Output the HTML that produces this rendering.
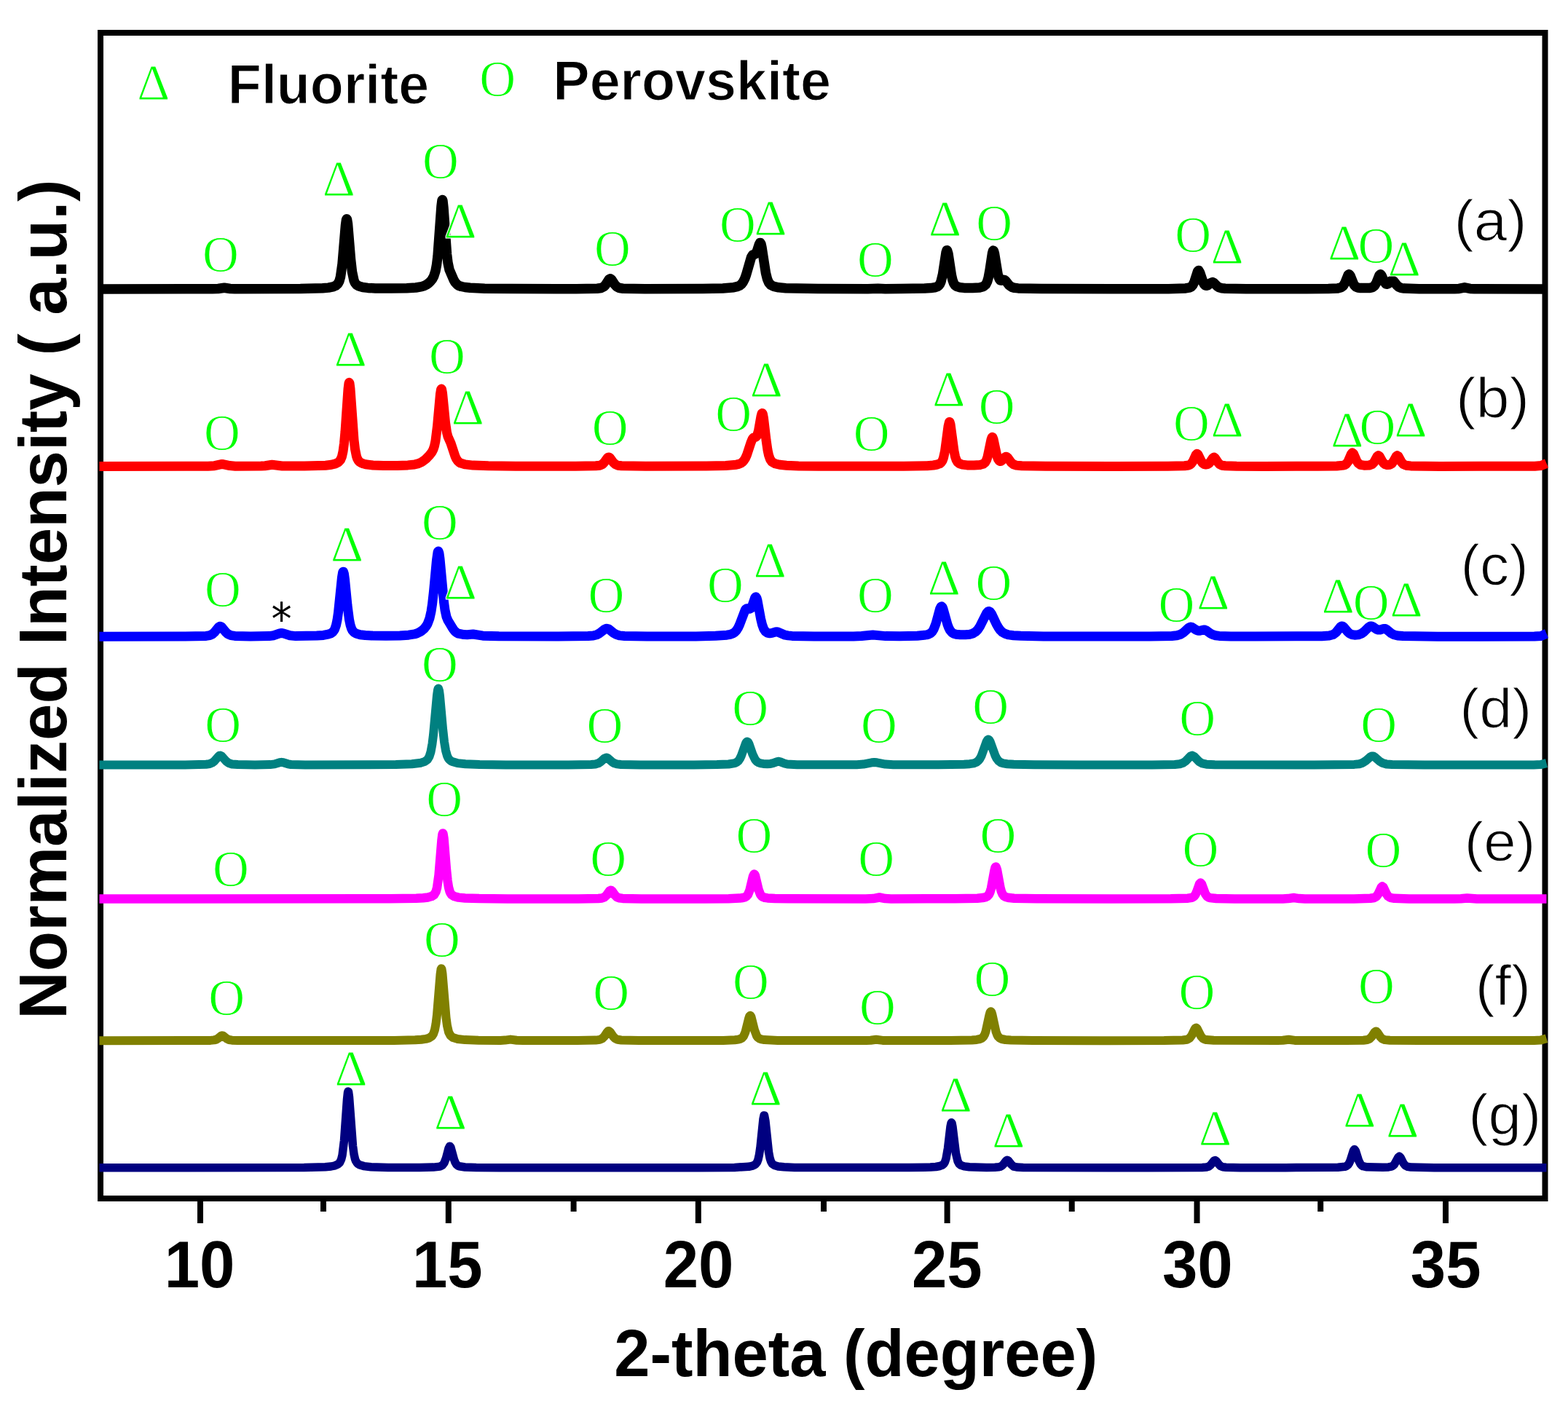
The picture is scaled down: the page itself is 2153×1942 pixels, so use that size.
<!DOCTYPE html><html><head><meta charset="utf-8"><title>XRD patterns</title><style>html,body{margin:0;padding:0;background:#fff;}svg{display:block;}text{font-kerning:none;}.b{font-family:"Liberation Sans",Arial,sans-serif;font-weight:bold;}.r{font-family:"Liberation Sans",Arial,sans-serif;}.s{font-family:"Liberation Serif","Times New Roman",serif;fill:#00ff00;stroke:#fff;stroke-width:1.1px;}</style></head><body>
<svg width="2153" height="1942" viewBox="0 0 2153 1942">
<rect width="2153" height="1942" fill="#ffffff"/>
<rect x="138" y="45" width="1983.5" height="1601" fill="none" stroke="#000" stroke-width="8"/>
<path d="M275.0,1646V1680M615.8,1646V1680M958.8,1646V1680M1300.6,1646V1680M1643.5,1646V1680M1985.0,1646V1680M444.0,1646V1664M787.6,1646V1664M1131.0,1646V1664M1471.7,1646V1664M1813.2,1646V1664" stroke="#000" stroke-width="8" fill="none"/>
<text class="b" font-size="87.0" transform="translate(225.66,1767.50) scale(1.0000,1.0509)">10</text>
<text class="b" font-size="87.0" transform="translate(565.89,1767.50) scale(1.0000,1.0509)">15</text>
<text class="b" font-size="87.0" transform="translate(910.69,1767.50) scale(1.0000,1.0509)">20</text>
<text class="b" font-size="87.0" transform="translate(1251.92,1767.50) scale(1.0000,1.0509)">25</text>
<text class="b" font-size="87.0" transform="translate(1595.90,1767.50) scale(1.0000,1.0509)">30</text>
<text class="b" font-size="87.0" transform="translate(1936.83,1767.50) scale(1.0000,1.0509)">35</text>
<text class="b" font-size="88.51" transform="translate(843.33,1889.70) scale(1,1.0337)">2-theta (degree)</text>
<text class="b" font-size="90.64" transform="translate(90.5,1393.6) rotate(-90) translate(-6.06,0) scale(1,1.0150)">Normalized Intensity ( a.u.)</text>
<text class="b" font-size="75.36" transform="translate(312.86,142.20) scale(1,1.0151)" style="stroke:#fff;stroke-width:1.20px">Fluorite</text>
<text class="b" font-size="75.44" transform="translate(759.35,136.90) scale(1,1.0008)" style="stroke:#fff;stroke-width:1.20px">Perovskite</text>
<polyline points="136.5,396.9 291.5,396.8 299.5,396.5 308.0,395.3 316.0,396.5 322.5,396.7 412.5,396.6 443.0,395.8 451.0,395.1 457.0,393.9 461.0,392.3 464.0,389.7 466.0,385.8 467.5,380.3 470.0,362.8 474.5,309.1 475.5,302.0 476.0,300.8 476.5,301.3 477.5,307.3 481.5,355.8 483.5,373.4 486.0,385.2 487.5,388.6 489.5,391.1 493.0,393.1 498.0,394.5 505.0,395.4 515.5,395.9 537.0,396.1 558.5,395.7 571.0,395.0 579.0,393.6 582.5,392.5 586.0,390.7 589.0,388.5 591.5,386.0 593.5,383.4 595.5,379.8 598.0,372.1 599.5,364.1 601.0,351.9 606.0,283.1 607.0,275.2 607.5,274.5 608.0,276.1 609.0,285.4 613.5,348.7 615.0,361.0 617.0,370.3 623.0,384.3 625.0,387.8 627.5,390.6 630.0,392.3 633.5,393.5 638.5,394.5 645.5,395.3 665.5,396.2 702.5,396.6 791.0,396.7 820.0,396.2 825.5,395.5 829.0,393.8 831.5,391.2 836.0,384.1 837.0,383.1 838.0,382.8 839.5,383.7 844.0,390.7 847.0,393.9 850.5,395.5 855.5,396.2 885.5,396.7 965.0,396.5 992.5,395.9 1007.5,394.7 1012.0,393.7 1015.5,392.3 1018.0,390.4 1020.5,387.1 1022.5,383.1 1024.5,377.6 1031.5,353.4 1033.5,350.2 1036.5,349.1 1038.0,347.8 1039.5,344.6 1042.5,335.3 1043.5,333.6 1044.0,333.6 1045.0,335.4 1046.0,339.7 1051.5,375.2 1053.5,383.2 1055.5,388.0 1058.5,391.5 1062.5,393.4 1069.0,394.8 1079.0,395.7 1123.0,396.6 1191.5,396.7 1205.5,396.2 1215.5,396.7 1237.0,396.6 1269.5,396.1 1278.0,395.6 1283.5,394.8 1287.0,393.6 1289.0,392.2 1290.5,390.2 1292.0,386.9 1294.5,376.5 1299.0,346.9 1300.0,343.9 1300.5,343.8 1302.0,348.8 1306.5,378.4 1308.0,384.8 1309.5,388.9 1311.5,391.9 1314.0,393.6 1318.0,394.7 1324.0,395.4 1335.5,395.6 1345.0,394.9 1350.5,393.4 1353.5,390.9 1355.5,387.0 1357.0,381.9 1359.0,371.2 1362.5,347.9 1363.5,344.5 1364.0,344.1 1364.5,344.7 1365.5,348.3 1370.0,376.1 1371.0,380.1 1372.5,383.8 1373.5,384.9 1374.5,385.3 1378.0,384.3 1379.5,384.6 1381.0,385.9 1385.5,391.6 1389.0,394.2 1392.5,395.3 1398.0,395.9 1430.0,396.6 1528.5,396.8 1604.5,396.7 1628.0,395.9 1634.0,394.8 1636.0,393.6 1637.5,391.9 1640.0,386.9 1644.5,372.9 1645.5,371.6 1646.0,371.6 1647.5,374.1 1652.0,387.7 1653.5,390.4 1655.0,391.9 1656.5,392.3 1658.0,392.0 1663.0,388.3 1665.0,387.6 1666.5,388.3 1671.0,392.8 1674.0,394.8 1677.5,395.8 1682.5,396.3 1711.0,396.7 1794.0,396.8 1824.0,396.5 1837.0,395.9 1841.5,394.8 1844.5,392.4 1847.0,388.0 1851.0,377.9 1852.0,376.8 1852.5,376.7 1854.0,378.6 1858.5,389.8 1860.0,392.2 1862.0,394.1 1864.5,395.1 1868.0,395.6 1880.0,395.6 1884.5,394.6 1887.5,392.3 1890.0,388.1 1894.0,378.1 1895.5,376.7 1897.0,378.3 1900.5,386.5 1903.0,389.9 1904.0,390.3 1905.5,390.0 1910.0,385.8 1912.0,385.1 1913.5,386.0 1918.0,391.7 1920.5,394.0 1923.5,395.3 1928.0,396.1 1948.5,396.7 1997.0,396.7 2003.5,396.4 2011.0,394.8 2018.5,396.4 2024.5,396.7 2123.5,396.9" fill="none" stroke="#000000" stroke-width="13.5" stroke-linejoin="round" stroke-linecap="butt"/>
<polyline points="136.5,640.5 285.5,640.3 294.5,639.7 305.0,637.4 315.5,639.6 323.0,640.2 358.5,640.1 364.0,639.7 373.5,638.3 387.5,640.0 418.0,640.0 447.0,639.2 455.0,638.3 460.5,636.9 464.5,635.0 467.5,631.7 469.5,626.9 471.0,620.1 472.5,609.1 474.0,592.7 478.0,534.4 479.0,526.4 479.5,525.3 480.0,526.3 481.0,534.1 486.0,603.9 487.5,616.7 489.5,626.7 490.5,629.6 492.0,632.4 493.5,634.1 495.5,635.5 498.5,636.8 502.0,637.7 512.0,639.0 526.5,639.5 545.5,639.4 560.0,638.9 569.0,638.0 574.5,636.6 579.5,634.3 584.5,630.6 589.5,625.5 593.0,621.0 595.0,617.1 596.5,612.5 598.0,605.3 600.5,585.4 604.5,541.1 605.5,535.1 606.0,534.1 606.5,534.6 607.5,539.7 611.5,580.2 613.5,593.9 615.0,599.6 619.0,608.6 625.0,626.7 626.5,629.9 628.5,633.0 630.5,634.9 632.5,636.1 639.0,637.9 649.5,639.1 670.5,639.8 708.0,640.2 790.0,640.3 818.0,639.8 823.5,639.2 827.0,637.7 829.5,635.3 834.0,629.0 835.0,628.2 836.0,627.9 837.5,628.8 842.0,635.0 845.0,637.8 848.5,639.2 853.5,639.8 886.5,640.3 970.0,640.1 996.5,639.5 1011.0,638.2 1014.5,637.4 1017.5,636.1 1019.5,634.6 1021.5,632.4 1023.5,629.2 1025.5,624.8 1031.0,608.0 1033.0,603.1 1034.5,601.1 1038.0,600.2 1039.5,598.4 1041.5,591.7 1045.0,571.7 1046.0,568.1 1046.5,567.4 1047.0,567.8 1047.5,569.1 1048.5,574.5 1052.0,604.3 1054.0,618.1 1055.5,625.2 1057.5,630.9 1060.0,634.4 1064.0,636.7 1070.5,638.3 1080.0,639.2 1096.5,639.9 1124.0,640.2 1241.0,640.2 1273.0,639.7 1281.5,639.0 1287.0,638.0 1290.5,636.7 1292.5,635.0 1294.0,632.7 1295.5,628.7 1297.5,619.6 1302.0,585.5 1303.5,579.4 1304.0,579.5 1305.0,582.7 1310.0,619.7 1311.5,626.9 1313.0,631.5 1315.0,634.9 1317.5,636.8 1321.5,638.1 1328.0,638.9 1337.5,639.1 1345.5,638.5 1350.0,637.3 1352.5,635.4 1354.5,632.0 1356.0,627.7 1361.0,603.7 1362.0,600.8 1362.5,600.3 1363.0,600.6 1364.0,603.1 1369.0,626.6 1370.5,630.6 1372.0,632.8 1373.5,633.5 1375.0,633.1 1380.0,627.9 1381.0,627.3 1382.0,627.3 1384.0,629.0 1388.5,635.3 1391.5,637.8 1395.5,639.1 1403.0,639.8 1435.5,640.3 1530.5,640.4 1603.5,640.3 1626.5,639.8 1632.0,639.0 1634.0,638.2 1635.5,637.0 1638.0,633.6 1642.0,624.9 1643.5,623.2 1645.0,624.2 1649.0,632.6 1651.0,635.7 1653.0,637.4 1655.5,638.1 1658.0,637.7 1660.0,636.5 1662.0,634.1 1665.5,628.9 1667.0,628.1 1668.5,629.2 1672.5,635.3 1675.0,637.9 1678.0,639.2 1682.5,639.8 1698.0,640.3 1736.0,640.4 1809.0,640.3 1835.5,640.0 1844.5,639.1 1846.5,638.5 1848.5,637.2 1851.0,633.8 1855.5,623.4 1857.0,621.8 1858.5,623.1 1862.5,632.4 1865.0,636.3 1868.0,638.4 1873.0,639.2 1880.0,639.0 1884.0,637.6 1886.5,635.1 1891.0,626.9 1892.5,625.6 1894.0,626.5 1898.0,633.7 1900.0,636.3 1902.0,637.8 1905.0,638.6 1908.5,638.2 1911.0,636.7 1913.5,633.4 1917.0,627.0 1918.5,625.7 1920.0,626.6 1924.5,634.8 1927.0,637.6 1930.5,639.2 1937.0,639.9 1977.0,640.4 2107.5,640.3 2116.0,639.6 2123.5,636.5" fill="none" stroke="#ff0000" stroke-width="13" stroke-linejoin="round" stroke-linecap="butt"/>
<polyline points="136.5,874.3 253.0,874.1 283.0,873.4 288.0,872.6 291.5,871.0 294.5,868.4 300.0,861.5 301.5,860.4 302.5,860.2 304.5,861.3 310.0,868.1 313.0,870.8 317.0,872.6 322.5,873.4 344.0,873.9 369.5,873.6 376.0,872.7 384.0,869.9 386.5,869.5 389.0,869.9 398.0,872.8 406.0,873.6 435.0,873.1 444.0,872.4 450.5,871.2 454.5,869.8 457.5,867.5 459.5,864.5 461.5,858.7 463.0,851.6 464.5,841.4 469.5,792.7 470.5,786.7 471.0,785.3 471.5,785.2 472.5,788.5 473.5,795.9 477.0,831.7 479.5,850.9 481.0,858.2 482.5,863.0 484.0,866.0 486.0,868.3 489.5,870.3 494.5,871.7 501.5,872.5 511.5,873.1 530.0,873.3 549.0,872.9 561.0,872.2 569.0,870.9 573.0,869.7 576.5,868.0 579.5,866.0 582.5,863.3 585.0,860.2 587.0,857.0 590.0,848.9 592.0,839.8 593.5,830.0 595.5,812.3 599.5,769.1 601.0,758.7 601.5,757.3 602.0,757.0 603.0,760.1 604.0,767.4 609.5,826.9 611.0,837.9 613.0,847.1 615.0,852.0 622.0,863.6 624.5,866.9 627.0,868.9 629.5,870.2 637.0,871.6 641.5,871.7 649.5,871.0 663.0,873.2 685.0,873.8 766.5,874.0 807.5,873.6 814.5,873.0 819.5,871.7 823.5,869.5 830.0,864.3 833.0,863.2 836.0,864.1 842.5,869.3 846.5,871.6 851.0,872.9 857.5,873.5 888.5,874.0 955.5,873.9 982.5,873.3 998.0,872.2 1002.5,871.4 1006.0,870.2 1008.5,868.7 1011.0,866.2 1013.5,862.3 1015.5,858.0 1023.0,838.2 1024.0,836.7 1025.5,835.7 1029.5,836.3 1031.0,835.4 1033.0,831.6 1036.5,821.3 1037.5,819.9 1038.0,819.8 1039.0,821.3 1040.0,824.8 1044.5,849.4 1046.5,857.8 1048.5,863.4 1051.0,867.3 1053.5,869.1 1057.0,869.8 1060.0,869.4 1065.5,867.7 1067.5,867.7 1078.0,872.2 1082.0,872.9 1087.5,873.4 1118.0,873.9 1172.0,873.9 1183.0,873.5 1198.5,872.0 1216.0,873.6 1235.5,873.8 1259.5,873.2 1272.0,871.9 1275.5,870.9 1278.0,869.5 1280.0,867.6 1282.0,864.4 1285.0,856.6 1290.5,836.4 1292.0,833.3 1293.0,832.8 1294.0,833.9 1295.0,836.2 1301.0,857.7 1302.5,861.8 1304.5,865.7 1307.0,868.7 1309.5,870.2 1313.0,871.2 1318.5,871.8 1325.5,871.8 1331.5,871.2 1336.0,869.9 1339.5,867.8 1342.5,864.8 1345.5,860.4 1354.5,842.3 1356.5,840.0 1358.0,839.5 1359.5,840.4 1361.5,843.1 1368.0,856.8 1371.0,862.2 1373.5,865.6 1376.5,868.4 1380.5,870.6 1385.0,871.9 1391.5,872.7 1401.5,873.3 1433.0,873.9 1498.5,874.1 1579.0,874.0 1609.0,873.5 1616.0,872.8 1621.0,871.3 1625.0,868.8 1632.0,862.4 1633.5,861.5 1635.0,861.1 1637.0,861.6 1642.5,865.2 1645.0,866.2 1647.5,866.2 1652.5,865.0 1654.5,865.1 1656.5,866.0 1662.0,870.0 1665.0,871.6 1669.0,872.8 1674.0,873.4 1690.0,873.9 1723.5,874.1 1815.0,873.7 1825.0,873.1 1830.5,871.6 1834.5,868.6 1840.5,861.1 1842.0,860.0 1843.0,859.9 1845.0,861.1 1850.0,867.2 1853.0,870.0 1856.0,871.5 1860.0,872.2 1865.0,871.8 1869.5,870.1 1873.0,867.6 1879.5,861.2 1881.0,860.3 1882.5,859.9 1884.5,860.3 1890.0,864.1 1892.5,865.1 1895.0,865.0 1900.0,863.4 1902.0,863.5 1904.5,864.9 1910.5,869.9 1914.0,871.8 1919.0,873.0 1926.5,873.6 1974.5,874.2 2107.0,874.1 2116.0,873.4 2123.5,870.3" fill="none" stroke="#0000ff" stroke-width="13" stroke-linejoin="round" stroke-linecap="butt"/>
<polyline points="136.5,1050.6 253.5,1050.5 283.0,1049.8 288.0,1049.1 291.5,1047.6 294.5,1045.2 300.0,1038.8 301.5,1037.7 302.5,1037.6 304.5,1038.6 310.5,1045.4 314.0,1048.0 318.5,1049.4 326.5,1050.1 350.0,1050.4 371.0,1050.1 377.0,1049.4 384.0,1047.2 386.5,1046.8 389.0,1047.2 395.5,1049.3 399.5,1050.0 419.0,1050.4 543.5,1050.1 565.5,1049.3 578.0,1047.7 583.5,1045.8 587.0,1043.2 589.5,1039.0 591.5,1032.6 593.5,1021.6 595.0,1009.5 600.0,954.8 601.0,947.9 601.5,946.1 602.0,945.6 603.0,948.4 604.0,955.7 608.0,1000.6 610.0,1018.7 612.0,1030.8 614.0,1038.0 615.5,1041.2 617.0,1043.3 619.0,1045.0 621.0,1046.1 628.0,1048.1 639.0,1049.3 658.5,1050.0 694.5,1050.4 780.5,1050.4 811.5,1050.0 817.5,1049.5 821.5,1048.3 825.0,1046.1 830.0,1041.5 832.5,1040.5 834.5,1041.2 840.0,1046.1 843.5,1048.3 847.0,1049.4 852.5,1050.0 879.0,1050.4 953.0,1050.4 984.5,1050.1 1000.5,1049.5 1009.0,1048.1 1011.5,1046.9 1014.0,1044.8 1016.0,1041.9 1018.0,1037.6 1024.0,1020.8 1025.0,1019.1 1026.0,1018.5 1027.0,1019.0 1028.5,1021.7 1033.5,1036.2 1037.0,1043.3 1039.0,1045.7 1041.5,1047.4 1044.5,1048.4 1048.0,1048.9 1053.5,1049.2 1058.0,1048.9 1061.5,1048.1 1067.0,1046.1 1069.0,1045.8 1071.0,1046.1 1077.0,1048.5 1081.0,1049.5 1094.5,1050.2 1176.5,1050.2 1185.5,1049.6 1197.0,1047.3 1200.5,1047.0 1204.0,1047.3 1215.5,1049.6 1226.5,1050.3 1288.5,1050.3 1323.5,1049.7 1331.5,1049.2 1337.0,1048.3 1340.5,1047.0 1343.5,1044.6 1345.5,1042.0 1347.5,1038.2 1354.5,1018.8 1356.0,1016.2 1357.0,1015.6 1358.0,1016.0 1359.5,1018.4 1366.5,1037.8 1368.5,1041.7 1371.0,1045.0 1374.0,1047.2 1377.5,1048.4 1383.0,1049.2 1392.0,1049.8 1420.0,1050.3 1483.0,1050.5 1582.0,1050.4 1613.0,1050.0 1620.0,1049.3 1624.5,1047.8 1628.0,1045.4 1634.5,1038.6 1637.0,1037.6 1639.5,1038.8 1646.5,1046.0 1650.5,1048.4 1656.5,1049.7 1668.0,1050.2 1804.5,1050.5 1859.5,1049.9 1866.5,1049.2 1871.0,1047.7 1875.0,1045.2 1881.5,1039.5 1883.0,1038.7 1884.5,1038.4 1886.0,1038.7 1887.5,1039.6 1894.0,1045.3 1898.5,1048.0 1903.5,1049.4 1911.5,1050.0 1955.5,1050.5 2106.0,1050.5 2115.5,1050.1 2123.5,1048.1" fill="none" stroke="#008080" stroke-width="12" stroke-linejoin="round" stroke-linecap="butt"/>
<polyline points="136.5,1234.5 534.5,1234.3 571.5,1233.8 581.0,1233.3 587.5,1232.5 592.5,1231.1 596.0,1228.9 598.5,1224.8 600.0,1219.6 602.5,1202.2 606.5,1153.6 607.5,1145.9 608.0,1144.5 608.5,1145.1 609.5,1151.5 613.0,1194.7 614.5,1209.1 616.0,1218.6 617.5,1224.2 618.5,1226.5 620.0,1228.7 623.5,1231.0 629.5,1232.6 638.5,1233.5 658.0,1234.1 697.0,1234.4 794.0,1234.4 821.5,1234.0 826.5,1233.5 830.0,1232.1 832.5,1229.9 837.0,1223.7 838.5,1222.8 839.5,1223.1 840.5,1224.0 844.5,1229.6 847.0,1232.0 850.0,1233.3 855.0,1233.9 880.5,1234.4 968.0,1234.4 1000.5,1234.2 1015.5,1233.6 1020.0,1233.0 1023.0,1232.2 1025.0,1231.0 1027.0,1228.7 1029.5,1222.5 1034.0,1203.5 1035.5,1200.5 1036.0,1200.7 1037.0,1202.8 1041.5,1221.8 1044.0,1228.3 1045.5,1230.4 1047.5,1231.9 1050.0,1232.8 1054.0,1233.4 1064.0,1234.0 1082.5,1234.3 1188.5,1234.4 1199.0,1234.1 1207.5,1232.5 1215.5,1234.1 1223.5,1234.4 1311.0,1234.3 1342.0,1233.7 1349.0,1233.1 1353.5,1232.1 1356.0,1230.7 1358.0,1228.4 1359.5,1225.1 1361.0,1220.0 1365.5,1195.5 1366.5,1191.6 1367.0,1190.7 1367.5,1190.5 1369.0,1194.6 1373.5,1219.2 1375.0,1224.6 1376.5,1228.0 1378.5,1230.6 1381.0,1232.0 1385.5,1233.1 1392.5,1233.7 1423.5,1234.3 1525.5,1234.5 1607.5,1234.3 1631.0,1233.7 1636.5,1232.8 1638.5,1231.9 1640.0,1230.6 1641.5,1228.4 1643.0,1225.3 1647.0,1214.1 1648.5,1212.5 1650.0,1214.3 1655.0,1227.6 1657.5,1231.1 1659.5,1232.5 1661.5,1233.1 1670.0,1234.0 1695.5,1234.4 1761.5,1234.4 1768.5,1234.1 1776.5,1233.0 1784.0,1234.1 1792.0,1234.4 1859.0,1234.4 1881.5,1233.8 1887.0,1233.0 1890.0,1231.2 1892.5,1227.7 1896.5,1219.0 1898.0,1217.5 1899.5,1218.6 1903.5,1227.2 1906.0,1230.9 1909.0,1232.9 1914.5,1233.8 1935.0,1234.4 1997.0,1234.4 2006.0,1234.3 2014.5,1233.5 2028.0,1234.4 2123.5,1234.5" fill="none" stroke="#ff00ff" stroke-width="12.5" stroke-linejoin="round" stroke-linecap="butt"/>
<polyline points="136.5,1429.2 289.0,1428.9 294.0,1428.4 297.0,1427.6 299.5,1426.1 303.5,1422.7 305.0,1422.2 306.5,1422.6 311.5,1426.6 314.5,1428.0 318.5,1428.7 326.5,1429.0 541.0,1428.9 570.0,1428.3 578.5,1427.7 584.5,1426.9 589.5,1425.4 593.0,1423.0 595.0,1420.1 597.0,1414.2 598.5,1406.2 600.0,1393.8 604.5,1338.4 605.5,1331.3 606.0,1330.2 606.5,1330.9 607.5,1337.3 612.5,1397.5 614.0,1408.7 616.0,1417.4 618.5,1422.3 622.0,1425.1 628.5,1427.0 638.5,1428.1 657.0,1428.7 687.0,1428.9 693.5,1428.6 701.0,1427.6 709.5,1428.8 718.0,1429.0 792.5,1429.1 818.0,1428.6 823.5,1427.9 827.0,1426.3 829.5,1423.8 834.0,1417.2 835.0,1416.2 836.0,1416.0 838.0,1417.5 842.0,1423.5 844.5,1426.1 848.0,1427.8 853.0,1428.5 877.5,1429.0 957.5,1429.1 993.0,1428.9 1009.0,1428.2 1014.0,1427.6 1017.0,1426.7 1019.0,1425.5 1021.0,1423.1 1023.5,1417.3 1028.0,1399.2 1029.0,1396.1 1030.0,1394.7 1030.5,1394.8 1031.5,1396.6 1036.0,1414.7 1039.0,1422.7 1040.5,1424.8 1042.5,1426.3 1045.5,1427.4 1049.5,1428.1 1068.0,1428.9 1115.5,1429.1 1189.5,1429.1 1195.5,1428.8 1203.0,1427.7 1212.0,1428.9 1221.0,1429.1 1304.5,1429.0 1334.5,1428.4 1341.0,1427.9 1345.5,1427.0 1348.5,1425.7 1350.5,1423.6 1352.0,1420.9 1353.5,1416.7 1358.5,1393.9 1359.5,1390.5 1360.5,1389.2 1361.5,1390.4 1362.5,1393.8 1367.5,1416.7 1369.0,1420.8 1370.5,1423.6 1372.5,1425.6 1375.5,1427.0 1380.5,1428.0 1388.0,1428.5 1418.5,1429.0 1510.0,1429.2 1598.5,1429.1 1624.0,1428.5 1630.0,1427.7 1633.5,1425.8 1636.5,1421.7 1640.5,1413.3 1641.5,1412.0 1642.5,1411.6 1644.0,1413.1 1649.0,1423.2 1652.0,1426.5 1654.0,1427.5 1656.5,1428.1 1666.5,1428.8 1754.5,1429.1 1761.5,1428.8 1769.5,1427.7 1778.0,1428.9 1785.0,1429.1 1849.0,1429.1 1872.0,1428.7 1877.5,1428.0 1880.5,1426.7 1883.5,1423.7 1887.5,1417.6 1889.0,1416.5 1890.0,1416.7 1891.0,1417.7 1895.0,1423.7 1898.0,1426.7 1901.5,1428.1 1908.5,1428.8 1948.5,1429.1 2106.5,1429.1 2115.5,1428.6 2123.5,1426.2" fill="none" stroke="#808000" stroke-width="12" stroke-linejoin="round" stroke-linecap="butt"/>
<polyline points="136.5,1603.8 417.5,1603.5 446.5,1602.8 454.5,1602.0 460.0,1600.8 464.0,1599.0 466.5,1596.7 468.5,1592.6 470.0,1586.6 472.5,1566.5 476.5,1509.9 477.5,1500.6 478.0,1498.9 478.5,1499.3 479.5,1506.5 484.5,1573.8 486.0,1585.0 487.5,1591.7 488.5,1594.4 490.0,1596.9 491.5,1598.4 493.5,1599.7 499.5,1601.6 509.5,1602.7 533.0,1603.4 576.0,1603.5 595.0,1603.1 604.0,1602.1 607.5,1600.4 610.0,1597.1 612.5,1590.4 616.0,1577.1 617.5,1574.3 618.0,1574.3 619.0,1576.0 623.5,1592.5 625.0,1596.4 626.5,1599.0 628.5,1600.9 630.5,1601.8 638.5,1603.0 654.0,1603.5 687.5,1603.7 958.5,1603.7 1008.5,1603.4 1028.0,1602.3 1033.5,1601.1 1037.0,1599.4 1039.5,1596.4 1041.0,1592.5 1042.5,1585.8 1044.0,1575.4 1048.0,1536.6 1049.0,1532.0 1049.5,1531.9 1051.0,1539.9 1055.5,1582.3 1057.0,1590.3 1058.5,1595.1 1060.5,1598.5 1063.5,1600.5 1068.5,1602.0 1076.5,1602.8 1091.0,1603.4 1117.0,1603.6 1248.5,1603.6 1277.5,1603.1 1285.0,1602.5 1290.5,1601.5 1294.0,1600.1 1296.0,1598.4 1297.5,1595.8 1299.0,1591.3 1301.5,1577.0 1305.0,1547.1 1306.0,1542.4 1306.5,1541.8 1307.0,1542.5 1308.0,1547.5 1312.5,1584.2 1315.0,1594.7 1317.0,1598.4 1319.5,1600.4 1324.0,1601.9 1331.0,1602.8 1354.5,1603.4 1366.0,1603.2 1371.5,1602.8 1374.0,1602.1 1376.0,1600.9 1378.0,1598.8 1381.5,1594.1 1383.0,1593.2 1384.5,1593.9 1389.0,1599.8 1392.0,1602.1 1396.0,1603.0 1405.0,1603.5 1575.5,1603.8 1650.5,1603.4 1656.5,1603.0 1660.0,1601.9 1662.5,1599.8 1667.0,1594.1 1668.5,1593.5 1670.0,1594.5 1673.5,1599.1 1676.0,1601.5 1679.0,1602.8 1683.5,1603.3 1703.0,1603.7 1765.0,1603.7 1837.0,1603.2 1846.5,1602.3 1849.0,1601.3 1851.0,1599.7 1852.5,1597.5 1854.0,1594.2 1858.5,1580.1 1859.5,1578.6 1860.0,1578.6 1861.5,1580.9 1865.5,1593.7 1868.0,1598.8 1869.5,1600.5 1871.5,1601.7 1877.0,1602.8 1898.5,1603.3 1906.5,1602.9 1910.5,1602.2 1912.5,1601.2 1914.5,1599.3 1920.0,1589.3 1921.5,1588.2 1923.0,1589.6 1927.0,1597.5 1929.5,1600.7 1932.5,1602.3 1937.5,1603.1 1969.5,1603.7 2123.5,1603.8" fill="none" stroke="#000080" stroke-width="11.5" stroke-linejoin="round" stroke-linecap="butt"/>
<text class="r" font-size="78.0" transform="translate(1996.58,330.36) scale(1.0484,0.9964)" style="stroke:#fff;stroke-width:1.24px">(a)</text>
<text class="r" font-size="78.0" transform="translate(1998.92,573.86) scale(1.0601,0.9964)" style="stroke:#fff;stroke-width:1.23px">(b)</text>
<text class="r" font-size="78.0" transform="translate(2005.38,802.74) scale(1.0274,0.9977)" style="stroke:#fff;stroke-width:1.27px">(c)</text>
<text class="r" font-size="78.0" transform="translate(2004.32,999.29) scale(1.0390,0.9826)" style="stroke:#fff;stroke-width:1.25px">(d)</text>
<text class="r" font-size="78.0" transform="translate(2010.80,1181.54) scale(1.0227,0.9853)" style="stroke:#fff;stroke-width:1.27px">(e)</text>
<text class="r" font-size="78.0" transform="translate(2025.64,1380.72) scale(1.0368,0.9867)" style="stroke:#fff;stroke-width:1.25px">(f)</text>
<text class="r" font-size="78.0" transform="translate(2016.28,1558.06) scale(1.0484,0.9964)" style="stroke:#fff;stroke-width:1.24px">(g)</text>
<text font-family="DejaVu Sans, sans-serif" font-size="58.0" transform="translate(372.42,871.08) scale(0.9709,1.0471)">*</text>
<text class="s" font-size="69.0" x="303.0" y="373.2" text-anchor="middle">O</text>
<text class="s" font-size="70.0" x="465.2" y="269.1" text-anchor="middle">&#916;</text>
<text class="s" font-size="69.0" x="604.9" y="244.7" text-anchor="middle">O</text>
<text class="s" font-size="70.0" x="632.0" y="327.0" text-anchor="middle">&#916;</text>
<text class="s" font-size="69.0" x="841.0" y="364.5" text-anchor="middle">O</text>
<text class="s" font-size="69.0" x="1013.0" y="332.2" text-anchor="middle">O</text>
<text class="s" font-size="70.0" x="1058.0" y="323.2" text-anchor="middle">&#916;</text>
<text class="s" font-size="69.0" x="1201.9" y="380.1" text-anchor="middle">O</text>
<text class="s" font-size="70.0" x="1297.5" y="324.2" text-anchor="middle">&#916;</text>
<text class="s" font-size="69.0" x="1365.1" y="329.6" text-anchor="middle">O</text>
<text class="s" font-size="69.0" x="1638.2" y="346.1" text-anchor="middle">O</text>
<text class="s" font-size="70.0" x="1685.0" y="361.8" text-anchor="middle">&#916;</text>
<text class="s" font-size="70.0" x="1845.7" y="357.0" text-anchor="middle">&#916;</text>
<text class="s" font-size="69.0" x="1889.5" y="360.8" text-anchor="middle">O</text>
<text class="s" font-size="70.0" x="1928.3" y="378.5" text-anchor="middle">&#916;</text>
<text class="s" font-size="69.0" x="304.9" y="618.4" text-anchor="middle">O</text>
<text class="s" font-size="70.0" x="481.3" y="502.9" text-anchor="middle">&#916;</text>
<text class="s" font-size="69.0" x="614.0" y="513.0" text-anchor="middle">O</text>
<text class="s" font-size="70.0" x="642.2" y="582.8" text-anchor="middle">&#916;</text>
<text class="s" font-size="69.0" x="837.7" y="610.8" text-anchor="middle">O</text>
<text class="s" font-size="69.0" x="1007.1" y="592.4" text-anchor="middle">O</text>
<text class="s" font-size="70.0" x="1052.2" y="544.6" text-anchor="middle">&#916;</text>
<text class="s" font-size="69.0" x="1196.6" y="618.6" text-anchor="middle">O</text>
<text class="s" font-size="70.0" x="1302.8" y="558.3" text-anchor="middle">&#916;</text>
<text class="s" font-size="69.0" x="1368.7" y="581.8" text-anchor="middle">O</text>
<text class="s" font-size="69.0" x="1635.9" y="604.5" text-anchor="middle">O</text>
<text class="s" font-size="70.0" x="1684.9" y="599.5" text-anchor="middle">&#916;</text>
<text class="s" font-size="70.0" x="1849.7" y="614.4" text-anchor="middle">&#916;</text>
<text class="s" font-size="69.0" x="1891.3" y="610.0" text-anchor="middle">O</text>
<text class="s" font-size="70.0" x="1937.1" y="599.5" text-anchor="middle">&#916;</text>
<text class="s" font-size="69.0" x="305.8" y="832.5" text-anchor="middle">O</text>
<text class="s" font-size="70.0" x="476.4" y="771.4" text-anchor="middle">&#916;</text>
<text class="s" font-size="69.0" x="604.0" y="741.1" text-anchor="middle">O</text>
<text class="s" font-size="70.0" x="632.3" y="822.7" text-anchor="middle">&#916;</text>
<text class="s" font-size="69.0" x="832.5" y="841.1" text-anchor="middle">O</text>
<text class="s" font-size="69.0" x="996.0" y="826.8" text-anchor="middle">O</text>
<text class="s" font-size="70.0" x="1057.3" y="793.4" text-anchor="middle">&#916;</text>
<text class="s" font-size="69.0" x="1201.9" y="840.5" text-anchor="middle">O</text>
<text class="s" font-size="70.0" x="1296.2" y="816.9" text-anchor="middle">&#916;</text>
<text class="s" font-size="69.0" x="1364.3" y="824.3" text-anchor="middle">O</text>
<text class="s" font-size="69.0" x="1615.5" y="853.5" text-anchor="middle">O</text>
<text class="s" font-size="70.0" x="1665.8" y="836.7" text-anchor="middle">&#916;</text>
<text class="s" font-size="70.0" x="1837.3" y="842.2" text-anchor="middle">&#916;</text>
<text class="s" font-size="69.0" x="1882.6" y="851.1" text-anchor="middle">O</text>
<text class="s" font-size="70.0" x="1931.0" y="847.1" text-anchor="middle">&#916;</text>
<text class="s" font-size="69.0" x="306.1" y="1018.5" text-anchor="middle">O</text>
<text class="s" font-size="69.0" x="603.8" y="935.6" text-anchor="middle">O</text>
<text class="s" font-size="69.0" x="830.4" y="1020.4" text-anchor="middle">O</text>
<text class="s" font-size="69.0" x="1030.2" y="996.2" text-anchor="middle">O</text>
<text class="s" font-size="69.0" x="1206.8" y="1019.6" text-anchor="middle">O</text>
<text class="s" font-size="69.0" x="1360.2" y="993.7" text-anchor="middle">O</text>
<text class="s" font-size="69.0" x="1644.2" y="1009.6" text-anchor="middle">O</text>
<text class="s" font-size="69.0" x="1893.2" y="1019.3" text-anchor="middle">O</text>
<text class="s" font-size="69.0" x="316.9" y="1216.8" text-anchor="middle">O</text>
<text class="s" font-size="69.0" x="610.2" y="1121.3" text-anchor="middle">O</text>
<text class="s" font-size="69.0" x="835.2" y="1203.4" text-anchor="middle">O</text>
<text class="s" font-size="69.0" x="1035.4" y="1171.3" text-anchor="middle">O</text>
<text class="s" font-size="69.0" x="1203.2" y="1202.8" text-anchor="middle">O</text>
<text class="s" font-size="69.0" x="1370.3" y="1171.2" text-anchor="middle">O</text>
<text class="s" font-size="69.0" x="1648.3" y="1190.0" text-anchor="middle">O</text>
<text class="s" font-size="69.0" x="1899.5" y="1191.3" text-anchor="middle">O</text>
<text class="s" font-size="69.0" x="311.2" y="1394.1" text-anchor="middle">O</text>
<text class="s" font-size="69.0" x="606.9" y="1314.0" text-anchor="middle">O</text>
<text class="s" font-size="69.0" x="839.1" y="1387.0" text-anchor="middle">O</text>
<text class="s" font-size="69.0" x="1031.0" y="1371.5" text-anchor="middle">O</text>
<text class="s" font-size="69.0" x="1205.0" y="1406.8" text-anchor="middle">O</text>
<text class="s" font-size="69.0" x="1362.5" y="1368.4" text-anchor="middle">O</text>
<text class="s" font-size="69.0" x="1643.4" y="1386.1" text-anchor="middle">O</text>
<text class="s" font-size="69.0" x="1889.8" y="1377.7" text-anchor="middle">O</text>
<text class="s" font-size="70.0" x="481.9" y="1491.1" text-anchor="middle">&#916;</text>
<text class="s" font-size="70.0" x="618.5" y="1551.0" text-anchor="middle">&#916;</text>
<text class="s" font-size="70.0" x="1051.3" y="1518.3" text-anchor="middle">&#916;</text>
<text class="s" font-size="70.0" x="1312.2" y="1526.5" text-anchor="middle">&#916;</text>
<text class="s" font-size="70.0" x="1384.8" y="1575.5" text-anchor="middle">&#916;</text>
<text class="s" font-size="70.0" x="1668.5" y="1573.3" text-anchor="middle">&#916;</text>
<text class="s" font-size="70.0" x="1866.7" y="1548.4" text-anchor="middle">&#916;</text>
<text class="s" font-size="70.0" x="1925.8" y="1561.9" text-anchor="middle">&#916;</text>
<text class="s" font-size="70.0" x="210.7" y="137.1" text-anchor="middle">&#916;</text>
<text class="s" font-size="69.0" x="683.2" y="131.8" text-anchor="middle">O</text>
</svg></body></html>
